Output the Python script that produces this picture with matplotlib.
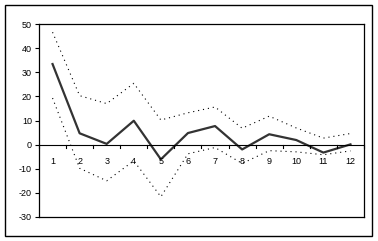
import matplotlib
matplotlib.use("Agg")
import matplotlib.pyplot as plt
from matplotlib.patches import Rectangle

categories = ["1", "2", "3", "4", "5", "6", "7", "8", "9", "10", "11", "12"]
mean_vals = [33.4, 4.7, 0.3, 9.9, -6.1, 4.8, 7.7, -2.0, 4.3, 1.9, -3.3, 0.1]
upper_vals = [46.6, 20.3, 17.0, 25.4, 10.2, 13.2, 15.6, 6.8, 11.8, 6.9, 2.7, 4.6]
lower_vals = [19.3, -9.8, -15.0, -6.7, -21.6, -3.8, -1.2, -7.8, -2.5, -3.0, -4.2, -2.6]
y_ticks = [50, 40, 30, 20, 10, 0, -10, -20, -30]

plt.rcParams['font.family'] = ['Liberation Sans', 'DejaVu Sans']
plt.rcParams['axes.unicode_minus'] = False

W, H = 378, 241
fig = plt.figure(figsize=(W / 100, H / 100), dpi=100)
fig.patch.set_facecolor('white')
fig.patches.append(Rectangle((5 / W, 1 - 236 / H), 367 / W, 231 / H, transform=fig.transFigure,
                             fill=False, edgecolor='black', linewidth=1.0))

ax = fig.add_axes([39 / W, 1 - 217 / H, (364 - 39) / W, (217 - 24) / H])
n = len(categories)
xs = list(range(n))
ax.plot(xs, upper_vals, color='black', linewidth=0.8, linestyle=(0, (1, 3.5)))
ax.plot(xs, lower_vals, color='black', linewidth=0.8, linestyle=(0, (1, 3.5)))
ax.plot(xs, mean_vals, color='#333333', linewidth=1.6)

ax.set_xlim(-0.5, n - 0.5)
ax.set_ylim(-30, 50)
ax.set_yticks(y_ticks)
ax.set_yticklabels([str(v) for v in y_ticks], fontsize=6.5)
ax.tick_params(axis='y', direction='out', length=3, width=0.8, pad=2)

ax.axhline(0, color='black', linewidth=0.8)
ax.set_xticks([])
for i in range(n + 1):
    ax.plot([i - 0.5, i - 0.5], [0, -1.3], color='black', linewidth=0.8, clip_on=False)
for i, c in enumerate(categories):
    ax.text(i, -7.0, c, ha='center', va='center', fontsize=6.5)

for s in ax.spines.values():
    s.set_linewidth(0.9)
    s.set_color('black')

fig.savefig('out.png', dpi=100)
